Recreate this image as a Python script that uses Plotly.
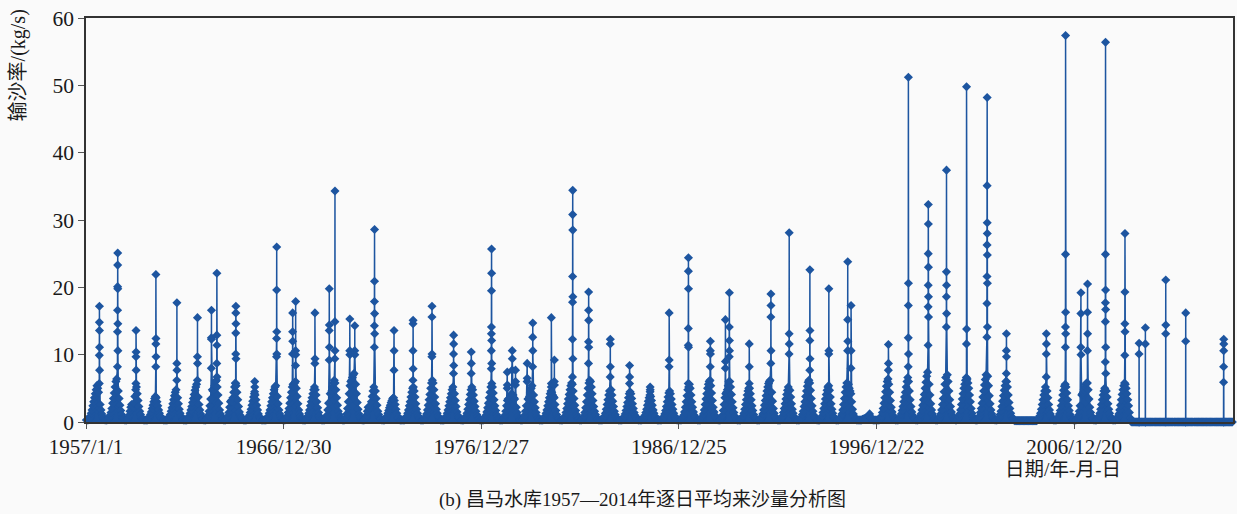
import datetime as dt
import plotly.graph_objects as go

# ---------------- data ----------------
# flood-season envelope of the dense daily band, one list per year,
# values (kg/s) on days 8, 23, 38, ... 353 of the year (15-day samples)
hill_1957_1966 = [
    [0.3,0.3,0.3,0.4,0.6,0.9,1.3,1.8,2.4,3.0,3.6,4.2,4.8,5.4,5.0,4.4,3.6,2.6,1.8,1.2,0.8,0.5,0.4,0.3],
    [0.3,0.3,0.4,0.5,0.7,1.0,1.4,2.0,2.8,3.5,4.3,5.2,6.0,6.4,5.6,4.6,3.5,2.5,1.7,1.1,0.7,0.5,0.4,0.3],
    [0.3,0.3,0.4,0.6,1.0,1.6,2.2,2.6,2.4,2.2,2.8,3.8,4.8,5.2,4.2,3.2,2.3,1.6,1.1,0.7,0.5,0.4,0.3,0.3],
    [0.3,0.3,0.3,0.4,0.6,0.8,1.1,1.5,2.0,2.5,3.0,3.5,3.8,3.6,3.0,2.4,1.8,1.3,0.9,0.6,0.5,0.4,0.3,0.3],
    [0.3,0.3,0.3,0.4,0.5,0.8,1.1,1.6,2.1,2.7,3.3,3.9,4.4,4.8,4.4,3.6,2.7,1.9,1.3,0.9,0.6,0.4,0.3,0.3],
    [0.3,0.3,0.3,0.4,0.6,0.9,1.3,1.8,2.3,2.9,3.5,4.1,4.7,5.2,5.6,4.8,3.7,2.6,1.8,1.2,0.8,0.5,0.4,0.3],
    [0.3,0.3,0.4,0.6,1.0,1.6,2.4,3.4,4.4,4.8,4.6,4.8,5.4,6.0,6.2,5.2,4.0,2.8,1.8,1.2,0.8,0.5,0.4,0.3],
    [0.3,0.3,0.4,0.6,0.9,1.4,2.2,3.0,3.2,3.0,3.6,4.4,5.2,5.8,5.4,4.4,3.3,2.3,1.5,1.0,0.7,0.5,0.4,0.3],
    [0.3,0.3,0.3,0.4,0.5,0.7,1.0,1.4,1.9,2.5,3.1,3.7,4.2,4.0,3.3,2.5,1.8,1.2,0.8,0.6,0.4,0.3,0.3,0.3],
    [0.3,0.3,0.3,0.4,0.6,0.9,1.3,1.8,2.4,3.0,3.6,4.2,4.8,5.2,5.4,4.8,3.8,2.7,1.8,1.2,0.8,0.5,0.4,0.3],
]
hill_1967_1976 = [
    [0.3,0.3,0.4,0.6,0.9,1.4,2.0,2.8,3.6,4.4,5.2,5.6,5.4,5.8,6.0,5.0,3.8,2.7,1.8,1.2,0.8,0.5,0.4,0.3],
    [0.3,0.3,0.3,0.4,0.6,0.9,1.3,1.8,2.4,3.0,3.6,4.2,4.8,5.2,4.8,4.0,3.0,2.1,1.4,0.9,0.6,0.4,0.3,0.3],
    [0.3,0.3,0.4,0.6,1.0,1.8,2.8,3.8,4.2,4.2,4.6,5.2,5.8,6.2,5.8,4.8,3.6,2.5,1.6,1.1,0.7,0.5,0.4,0.3],
    [0.3,0.3,0.4,0.7,1.2,2.0,3.0,4.2,5.4,6.0,6.2,6.6,7.0,7.2,6.8,5.6,4.2,2.9,1.9,1.2,0.8,0.5,0.4,0.3],
    [0.3,0.3,0.4,0.6,1.0,1.6,2.2,2.2,2.0,2.4,3.0,3.8,4.6,5.2,5.4,4.6,3.5,2.5,1.6,1.1,0.7,0.5,0.4,0.3],
    [0.3,0.3,0.3,0.4,0.6,0.9,1.3,1.7,2.1,2.5,2.9,3.2,3.5,3.6,3.2,2.6,1.9,1.3,0.9,0.6,0.4,0.3,0.3,0.3],
    [0.3,0.3,0.3,0.4,0.6,0.9,1.3,1.8,2.4,3.0,3.7,4.4,5.0,5.2,4.6,3.7,2.7,1.9,1.3,0.9,0.6,0.4,0.3,0.3],
    [0.3,0.3,0.4,0.5,0.8,1.2,1.8,2.5,3.3,4.1,5.0,5.8,6.2,5.8,4.8,3.7,2.7,1.9,1.3,0.9,0.6,0.4,0.3,0.3],
    [0.3,0.3,0.3,0.4,0.6,0.9,1.3,1.8,2.4,3.0,3.6,4.2,4.8,5.2,5.0,4.2,3.2,2.3,1.5,1.0,0.7,0.5,0.4,0.3],
    [0.3,0.3,0.3,0.4,0.6,0.9,1.3,1.9,2.6,3.3,4.1,4.8,5.2,4.8,4.0,3.1,2.3,1.6,1.1,0.8,0.5,0.4,0.3,0.3],
]
hill_1977_1986 = [
    [0.3,0.3,0.3,0.4,0.6,1.0,1.5,2.1,2.8,3.6,4.4,5.2,5.6,5.2,4.3,3.3,2.4,1.7,1.1,0.8,0.5,0.4,0.3,0.3],
    [0.3,0.3,0.4,0.6,1.0,1.6,2.4,3.2,3.4,3.2,3.4,3.8,4.2,4.4,4.0,3.6,3.4,3.0,2.2,1.4,0.9,0.6,0.4,0.3],
    [0.3,0.3,0.4,0.6,1.0,1.6,2.4,3.2,3.4,3.4,3.8,4.4,5.0,5.4,5.0,4.0,3.0,2.1,1.4,0.9,0.6,0.4,0.3,0.3],
    [0.3,0.3,0.3,0.4,0.6,0.9,1.3,1.8,2.4,3.0,3.6,4.2,4.6,4.4,4.0,3.8,3.6,2.6,1.7,1.1,0.7,0.5,0.4,0.3],
    [0.3,0.3,0.3,0.4,0.6,0.9,1.4,2.0,2.7,3.4,4.1,4.8,5.4,5.8,5.6,4.6,3.5,2.5,1.7,1.1,0.7,0.5,0.4,0.3],
    [0.3,0.3,0.4,0.6,0.9,1.4,2.1,3.0,4.0,5.0,5.8,6.2,6.0,5.2,4.2,3.2,2.3,1.6,1.1,0.7,0.5,0.4,0.3,0.3],
    [0.3,0.3,0.3,0.4,0.6,0.9,1.3,1.9,2.6,3.3,4.0,4.6,5.0,4.8,4.0,3.1,2.3,1.6,1.1,0.7,0.5,0.4,0.3,0.3],
    [0.3,0.3,0.3,0.4,0.5,0.8,1.2,1.7,2.3,2.9,3.6,4.2,4.5,4.2,3.5,2.7,2.0,1.4,1.0,0.7,0.5,0.4,0.3,0.3],
    [0.3,0.3,0.3,0.4,0.5,0.7,1.0,1.4,1.9,2.5,3.1,3.6,4.0,3.8,3.2,2.5,1.8,1.3,0.9,0.6,0.4,0.3,0.3,0.3],
    [0.3,0.3,0.3,0.4,0.5,0.8,1.2,1.7,2.3,3.0,3.7,4.3,4.6,4.2,3.4,2.6,1.9,1.3,0.9,0.6,0.4,0.3,0.3,0.3],
]
hill_1987_1996 = [
    [0.3,0.3,0.3,0.4,0.6,1.0,1.5,2.2,3.0,3.9,4.8,5.5,5.6,5.0,4.0,3.0,2.2,1.5,1.0,0.7,0.5,0.4,0.3,0.3],
    [0.3,0.3,0.4,0.5,0.8,1.2,1.8,2.6,3.4,4.2,5.0,5.6,6.0,6.2,5.4,4.3,3.2,2.2,1.5,1.0,0.7,0.5,0.4,0.3],
    [0.3,0.3,0.4,0.6,1.0,1.7,2.6,3.6,4.2,4.4,4.8,5.4,6.0,6.0,5.2,4.1,3.0,2.1,1.4,0.9,0.6,0.4,0.3,0.3],
    [0.3,0.3,0.3,0.4,0.6,0.9,1.3,1.9,2.6,3.3,4.0,4.6,5.0,5.0,4.2,3.3,2.4,1.7,1.1,0.7,0.5,0.4,0.3,0.3],
    [0.3,0.3,0.4,0.5,0.8,1.2,1.8,2.5,3.2,3.9,4.6,5.2,5.7,6.0,6.2,5.6,4.4,3.1,2.0,1.3,0.8,0.5,0.4,0.3],
    [0.3,0.3,0.3,0.4,0.6,0.9,1.4,2.0,2.7,3.4,4.1,4.7,5.2,5.4,4.7,3.7,2.7,1.9,1.3,0.8,0.6,0.4,0.3,0.3],
    [0.3,0.3,0.4,0.5,0.7,1.1,1.6,2.3,3.0,3.8,4.6,5.3,5.9,6.2,5.8,4.7,3.5,2.4,1.6,1.0,0.7,0.5,0.4,0.3],
    [0.3,0.3,0.3,0.4,0.6,0.9,1.4,2.0,2.7,3.4,4.1,4.7,5.2,5.4,4.7,3.7,2.7,1.9,1.3,0.8,0.6,0.4,0.3,0.3],
    [0.3,0.3,0.4,0.5,0.8,1.2,1.8,2.6,3.5,4.4,5.2,5.8,6.0,5.6,5.0,4.6,4.2,3.0,1.9,1.2,0.8,0.5,0.4,0.3],
    [0.3,0.3,0.3,0.3,0.3,0.3,0.4,0.4,0.5,0.5,0.6,0.6,0.7,0.8,0.9,0.8,0.6,0.5,0.4,0.3,0.3,0.3,0.3,0.3],
]
hill_1997_2006 = [
    [0.3,0.3,0.3,0.4,0.6,0.9,1.4,2.0,2.8,3.6,4.5,5.3,6.0,6.4,5.6,4.4,3.2,2.2,1.5,1.0,0.6,0.4,0.3,0.3],
    [0.3,0.3,0.4,0.5,0.8,1.2,1.7,2.3,3.0,3.7,4.4,5.2,6.0,6.6,6.0,4.6,3.3,2.3,1.5,1.0,0.7,0.5,0.4,0.3],
    [0.3,0.3,0.4,0.5,0.8,1.2,1.8,2.5,3.3,4.1,5.0,5.9,6.8,7.4,7.0,5.6,4.0,2.7,1.8,1.2,0.8,0.5,0.4,0.3],
    [0.3,0.3,0.4,0.5,0.8,1.2,1.8,2.6,3.5,4.5,5.6,6.6,7.2,7.0,6.0,4.6,3.3,2.3,1.5,1.0,0.7,0.5,0.4,0.3],
    [0.3,0.4,0.5,0.8,1.2,1.8,2.6,3.4,4.2,5.0,5.6,6.2,6.6,6.4,5.8,5.0,4.0,3.0,2.0,1.3,0.8,0.5,0.4,0.3],
    [0.3,0.3,0.4,0.6,0.9,1.4,2.0,2.8,3.7,4.6,5.5,6.3,7.0,7.4,6.8,5.4,3.9,2.7,1.8,1.2,0.8,0.5,0.4,0.3],
    [0.3,0.3,0.4,0.5,0.7,1.1,1.6,2.3,3.1,3.9,4.7,5.4,6.0,6.0,5.2,4.0,2.9,2.0,1.3,0.8,0.5,0.4,0.3,0.2],
    [0.2,0.2,0.2,0.2,0.2,0.2,0.2,0.2,0.2,0.2,0.2,0.2,0.2,0.2,0.2,0.2,0.2,0.2,0.2,0.2,0.2,0.2,0.2,0.2],
    [0.2,0.2,0.3,0.4,0.6,0.9,1.3,1.9,2.6,3.3,4.0,4.6,5.2,5.4,4.6,3.6,2.6,1.8,1.2,0.8,0.5,0.4,0.3,0.3],
    [0.3,0.3,0.4,0.5,0.8,1.2,1.7,2.4,3.2,4.0,4.7,5.3,5.6,5.2,4.3,3.3,2.4,1.7,1.1,0.7,0.5,0.4,0.3,0.3],
]
hill_2007_2014 = [
    [0.3,0.3,0.4,0.6,1.0,1.6,2.4,3.4,4.0,4.2,4.4,4.8,5.2,5.6,5.8,5.8,4.8,3.4,2.2,1.4,0.9,0.5,0.4,0.3],
    [0.3,0.3,0.3,0.4,0.6,0.9,1.3,1.9,2.6,3.3,4.0,4.6,5.0,5.2,4.6,3.7,2.7,1.9,1.3,0.8,0.5,0.4,0.3,0.3],
    [0.3,0.3,0.4,0.5,0.8,1.2,1.8,2.5,3.3,4.1,4.8,5.4,5.8,5.6,5.0,4.2,3.3,2.4,1.4,0.6,0.1,0.0,0.0,0.0],
    [0.0,0.0,0.0,0.0,0.0,0.0,0.0,0.0,0.0,0.0,0.0,0.0,0.0,0.0,0.0,0.0,0.0,0.0,0.0,0.0,0.0,0.0,0.0,0.0],
    [0.0,0.0,0.0,0.0,0.0,0.0,0.0,0.0,0.0,0.0,0.0,0.0,0.0,0.0,0.0,0.0,0.0,0.0,0.0,0.0,0.0,0.0,0.0,0.0],
    [0.0,0.0,0.0,0.0,0.0,0.0,0.0,0.0,0.0,0.0,0.0,0.0,0.0,0.0,0.0,0.0,0.0,0.0,0.0,0.0,0.0,0.0,0.0,0.0],
    [0.0,0.0,0.0,0.0,0.0,0.0,0.0,0.0,0.0,0.0,0.0,0.0,0.0,0.0,0.0,0.0,0.0,0.0,0.0,0.0,0.0,0.0,0.0,0.0],
    [0.0,0.0,0.0,0.0,0.0,0.0,0.0,0.0,0.0,0.0,0.0,0.0,0.0,0.0,0.0,0.0,0.0,0.0,0.0,0.0,0.0,0.0,0.0,0.0],
]
hill_sample_days = [8, 23, 38, 53, 68, 83, 98, 113, 128, 143, 158, 173,
                    188, 203, 218, 233, 248, 263, 278, 293, 308, 323, 338, 353]

# flood events: year, day of year of the peak, values on consecutive days (kg/s)
event_years = [1957, 1958, 1959, 1960, 1961, 1962, 1963, 1963, 1964, 1965, 1966,
               1967, 1967, 1968, 1969, 1969, 1970, 1970, 1971, 1972, 1973, 1974,
               1975, 1976, 1977, 1978, 1978, 1978, 1979, 1979, 1980, 1980, 1981,
               1982, 1983, 1984, 1985, 1986, 1987, 1988, 1989, 1989, 1990, 1991,
               1992, 1993, 1994, 1995, 1995, 1996, 1997, 1998, 1999, 2000, 2001,
               2002, 2003, 2005, 2006, 2007, 2007, 2008, 2009, 2010, 2010, 2011,
               2012, 2014]
event_days = [249, 221, 195, 197, 219, 234, 127, 227, 212, 195, 236,
              166, 221, 212, 111, 216, 125, 217, 216, 212, 197, 182,
              216, 177, 186, 111, 203, 263, 114, 217, 195, 251, 223,
              153, 188, 179, 193, 179, 170, 210, 122, 195, 197, 232,
              205, 221, 206, 190, 251, 229, 210, 214, 217, 188, 192,
              208, 199, 205, 195, 114, 236, 203, 195, 92, 208, 219,
              223, 193]
event_values = [
    [5.7, 9.9, 14.8, 17.2, 13.6, 11.1, 7.7],
    [8.2, 13.4, 16.6, 20.1, 23.3, 25.1, 19.8, 14.6, 10.6],
    [5.7, 9.7, 13.6, 10.4, 7.7],
    [8.2, 11.6, 21.9, 12.4, 9.7],
    [6.2, 8.7, 17.7, 7.7],
    [6.2, 9.7, 15.5, 8.7],
    [8.0, 12.5, 16.6, 12.3],
    [8.7, 12.9, 22.1, 11.4, 6.7],
    [5.7, 10.1, 13.2, 16.2, 17.2, 14.6, 9.4],
    [4.5, 6.0, 5.2],
    [9.7, 12.4, 19.6, 26.0, 13.4, 10.1],
    [10.1, 13.4, 16.2, 12.0],
    [8.4, 10.6, 17.9, 10.0],
    [8.7, 16.2, 9.4],
    [9.2, 13.6, 19.8, 14.4, 11.1],
    [9.4, 14.9, 34.3, 10.6],
    [10.6, 15.3, 10.0],
    [10.6, 14.3, 10.0],
    [11.1, 14.3, 17.9, 20.9, 28.6, 16.1, 13.1],
    [7.7, 13.6, 10.6],
    [6.2, 10.6, 14.6, 15.1, 7.9],
    [9.7, 15.6, 17.2, 10.1],
    [7.2, 10.1, 12.9, 11.6, 8.4],
    [7.2, 10.4, 8.7],
    [7.9, 10.6, 13.1, 14.1, 19.5, 25.7, 22.1, 12.1, 8.7, 5.7],
    [5.0, 7.4, 5.5],
    [7.7, 10.6, 9.4],
    [5.5, 7.7, 6.0],
    [6.0, 8.7, 6.5],
    [8.2, 12.6, 14.7, 10.6],
    [5.2, 15.5, 5.7],
    [6.0, 9.2, 5.5],
    [6.7, 12.3, 17.8, 21.6, 30.8, 34.4, 28.5, 18.6, 9.4],
    [8.7, 11.9, 16.6, 19.3, 15.1, 11.1],
    [6.7, 11.6, 12.3, 8.2],
    [5.7, 8.4, 6.7],
    [4.5, 5.2, 4.8],
    [8.2, 16.2, 9.2],
    [5.7, 11.4, 13.9, 22.4, 24.4, 19.8, 11.1, 5.2],
    [8.2, 10.6, 12.0, 10.1],
    [8.0, 15.2, 9.0],
    [9.7, 14.1, 19.2, 12.1, 10.6],
    [5.7, 11.6, 8.2],
    [8.7, 15.6, 19.0, 17.3, 10.6],
    [10.1, 13.1, 28.1, 11.6],
    [7.7, 12.1, 22.6, 13.6, 9.4],
    [10.1, 19.8, 10.6],
    [10.6, 15.2, 23.8, 12.0],
    [8.0, 17.3, 10.6],
    [0.8, 1.2, 0.8],
    [7.7, 11.5, 8.7],
    [8.2, 12.5, 17.3, 51.2, 20.6, 10.1],
    [11.4, 17.1, 20.3, 25.0, 32.3, 29.4, 23.0, 18.6, 15.6],
    [14.1, 18.6, 22.3, 37.4, 20.3, 16.1],
    [6.2, 11.6, 49.8, 13.8],
    [12.6, 17.6, 21.6, 26.3, 35.1, 48.2, 29.6, 28.0, 24.8, 20.6, 14.1],
    [7.2, 10.6, 13.1, 9.7],
    [6.7, 10.1, 13.1, 11.6],
    [11.1, 14.1, 24.9, 57.4, 16.3, 13.1],
    [11.1, 16.1, 19.2, 10.0],
    [10.6, 16.3, 20.5, 13.1],
    [8.9, 14.9, 17.7, 24.9, 56.4, 19.6, 16.7, 11.1, 7.2],
    [9.9, 14.6, 19.3, 28.0, 13.4],
    [0.0, 10.1, 11.7, 0.0],
    [0.0, 11.6, 14.0, 0.0],
    [0.0, 13.1, 21.1, 14.4, 0.0],
    [0.0, 12.0, 16.2, 0.0],
    [0.0, 5.9, 8.2, 10.6, 12.3, 11.6, 0.0],
]

tick_dates = ["1957-01-01", "1966-12-30", "1976-12-27", "1986-12-25", "1996-12-22", "2006-12-20"]
tick_labels = ["1957/1/1", "1966/12/30", "1976/12/27", "1986/12/25", "1996/12/22", "2006/12/20"]

# ---------------- assemble the daily series ----------------
series = {}
hills = hill_1957_1966 + hill_1967_1976 + hill_1977_1986 + hill_1987_1996 + hill_1997_2006 + hill_2007_2014
for k, vals in enumerate(hills):
    y0 = dt.date(1957 + k, 1, 1)
    for d, v in zip(hill_sample_days, vals):
        series[y0 + dt.timedelta(days=d - 1)] = v
for yr, doy, vals in zip(event_years, event_days, event_values):
    start = dt.date(yr, 1, 1) + dt.timedelta(days=doy - 1 - len(vals) // 2)
    for j, v in enumerate(vals):
        series[start + dt.timedelta(days=j)] = v

dates = sorted(series)
xs = [d.isoformat() for d in dates]
ys = [series[d] for d in dates]

BLUE = "#1d55a0"
SERIF = "Liberation Serif, Times New Roman, Noto Sans CJK SC, serif"
CJK = "Liberation Serif, Noto Sans CJK SC, serif"

fig = go.Figure()
fig.add_trace(go.Scatter(
    x=xs, y=ys, mode="lines+markers",
    line=dict(color=BLUE, width=1.5),
    marker=dict(symbol="diamond", size=7, color=BLUE),
    fill="tozeroy", fillcolor=BLUE,
    cliponaxis=False, showlegend=False,
))

fig.update_layout(
    width=1237, height=514,
    margin=dict(l=86, r=2, t=18, b=92),
    paper_bgcolor="#fafafa", plot_bgcolor="#fafafa",
    font=dict(family=SERIF, size=21, color="#1a1a1a"),
)
fig.update_xaxes(
    type="date", range=["1957-01-01", "2014-12-31"],
    tickvals=tick_dates, ticktext=tick_labels,
    ticks="outside", ticklen=5, tickcolor="#555", tickangle=0,
    showgrid=False, zeroline=False,
    showline=True, mirror=True, linecolor="#333", linewidth=1.5,
    tickfont=dict(family=SERIF, size=21, color="#1a1a1a"),
    ticklabelstandoff=0,
)
fig.update_yaxes(
    range=[0, 60], tickvals=[0, 10, 20, 30, 40, 50, 60],
    ticks="outside", ticklen=6, tickcolor="#555",
    showgrid=False, zeroline=False,
    showline=True, mirror=True, linecolor="#333", linewidth=1.5,
    tickfont=dict(family=SERIF, size=21.5, color="#1a1a1a"),
)

fig.add_annotation(text="输沙率/(kg/s)", xref="paper", yref="paper",
                   x=-0.059, y=1.027, xanchor="center", yanchor="top",
                   textangle=-90, showarrow=False,
                   font=dict(family=CJK, size=20, color="#1a1a1a"))
fig.add_annotation(text="日期/年-月-日", xref="paper", yref="paper",
                   x=0.852, y=-0.118, xanchor="center", yanchor="middle",
                   showarrow=False, font=dict(family=CJK, size=19.5, color="#1a1a1a"))
fig.add_annotation(text="(b) 昌马水库1957—2014年逐日平均来沙量分析图", xref="paper", yref="paper",
                   x=0.485, y=-0.193, xanchor="center", yanchor="middle",
                   showarrow=False, font=dict(family=CJK, size=19, color="#1a1a1a"))

fig.write_html("out.html", config={"displayModeBar": False},
               post_script="document.body.style.margin='0';document.body.style.overflow='hidden';")
